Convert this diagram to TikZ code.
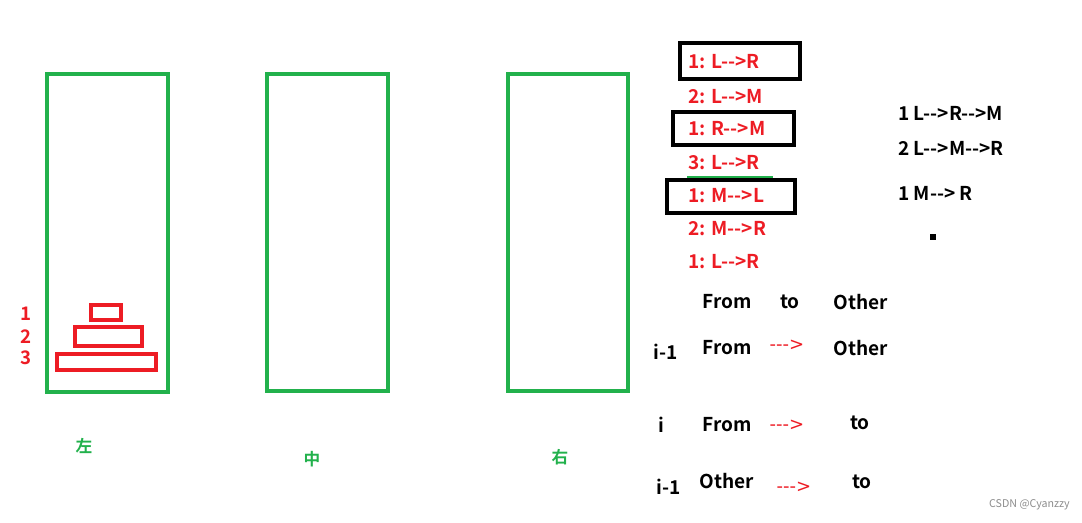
\documentclass[tikz,border=0pt]{standalone}
\usepackage{fontspec}
\setmainfont{Noto Sans CJK SC}[BoldFont={Noto Sans CJK SC Bold}]
\newfontfamily\cjk{Noto Sans CJK SC Bold}
\newfontfamily\dv{DejaVu Sans}
\definecolor{pegGreen}{HTML}{22B14C}
\definecolor{diskRed}{HTML}{ED1C24}
\tikzset{
  peg/.style={draw=pegGreen, line width=3pt},
  disk/.style={draw=diskRed, line width=3pt},
  movebox/.style={draw=black, line width=3.5pt},
  redtxt/.style={text=diskRed, font=\fontsize{14.3}{16}\selectfont\bfseries, inner sep=0pt, anchor=west},
  blktxt/.style={text=black, font=\fontsize{14.3}{16}\selectfont\bfseries, inner sep=0pt},
  arr/.style={text=diskRed, font=\dv\fontsize{13.5}{15}\selectfont, inner sep=0pt},
  cjklabel/.style={text=pegGreen, font=\cjk\fontsize{12.5}{14}\selectfont, inner sep=0pt},
  num/.style={text=diskRed, font=\fontsize{14}{16}\selectfont\bfseries, inner sep=0pt}
}
\begin{document}
\begin{tikzpicture}[x=0.75pt,y=-0.75pt]
\useasboundingbox (0,0) rectangle (1082,523);
% pegs
\draw[peg] (47,74) rectangle (168,392);
\draw[peg] (267,74) rectangle (388,391);
\draw[peg] (508,74) rectangle (628,391);
% disks
\draw[disk] (91,305) rectangle (121,320);
\draw[disk] (75,327) rectangle (142,346);
\draw[disk] (57,354) rectangle (156,370);
\node[num] (n1) at (26,314) {1};
\node[num] (n2) at (26,337) {2};
\node[num] (n3) at (26,358) {3};
% labels
\node[cjklabel] (zuo) at (84,446) {左};
\node[cjklabel] (zhong) at (312,459) {中};
\node[cjklabel] (you) at (560,457) {右};
% move list
\draw[movebox] (680,43) rectangle (800,79);
\draw[movebox] (673,112) rectangle (794,145);
\draw[movebox] (667,180) rectangle (795,213);
\node[redtxt] (m1) at (688,62) {1: L-{}->R};
\node[redtxt] (m2) at (688,97) {2: L-{}->M};
\node[redtxt] (m3) at (688,129) {1: R-{}->M};
\node[redtxt] (m4) at (688,163) {3: L-{}->R};
\draw[pegGreen, line width=0.8pt] (687,177) -- (773,177);
\node[redtxt] (m5) at (688,196) {1: M-{}->L};
\node[redtxt] (m6) at (688,229) {2: M-{}->R};
\node[redtxt] (m7) at (688,262) {1: L-{}->R};
% right notes
\node[blktxt, anchor=west] (r1) at (898,113) {1 L-{}->R-{}->M};
\node[blktxt, anchor=west] (r2) at (898,148) {2 L-{}->M-{}->R};
\node[blktxt, anchor=west] (r3) at (898,193) {1 M-{}-> R};
\fill (930,234) rectangle (936,240);
% table
\node[blktxt] (h1) at (727,302) {From};
\node[blktxt] (h2) at (790,302) {to};
\node[blktxt] (h3) at (861,302) {Other};
\node[blktxt] (a0) at (666,352) {i-1};
\node[blktxt] (a1) at (727,348) {From};
\node[arr] (a2) at (787,345) {-{}-{}->};
\node[blktxt] (a3) at (861,348) {Other};
\node[blktxt] (b0) at (661,425) {i};
\node[blktxt] (b1) at (727,425) {From};
\node[arr] (b2) at (787,425) {-{}-{}->};
\node[blktxt] (b3) at (860,423) {to};
\node[blktxt] (c0) at (669,487) {i-1};
\node[blktxt] (c1) at (727,481) {Other};
\node[arr] (c2) at (794,487) {-{}-{}->};
\node[blktxt] (c3) at (862,482) {to};
% watermark
\node[text=black!45, font=\fontsize{8}{10}\selectfont, inner sep=0pt, anchor=east] (wm) at (1070,505) {CSDN @Cyanzzy};
\end{tikzpicture}
\end{document}
